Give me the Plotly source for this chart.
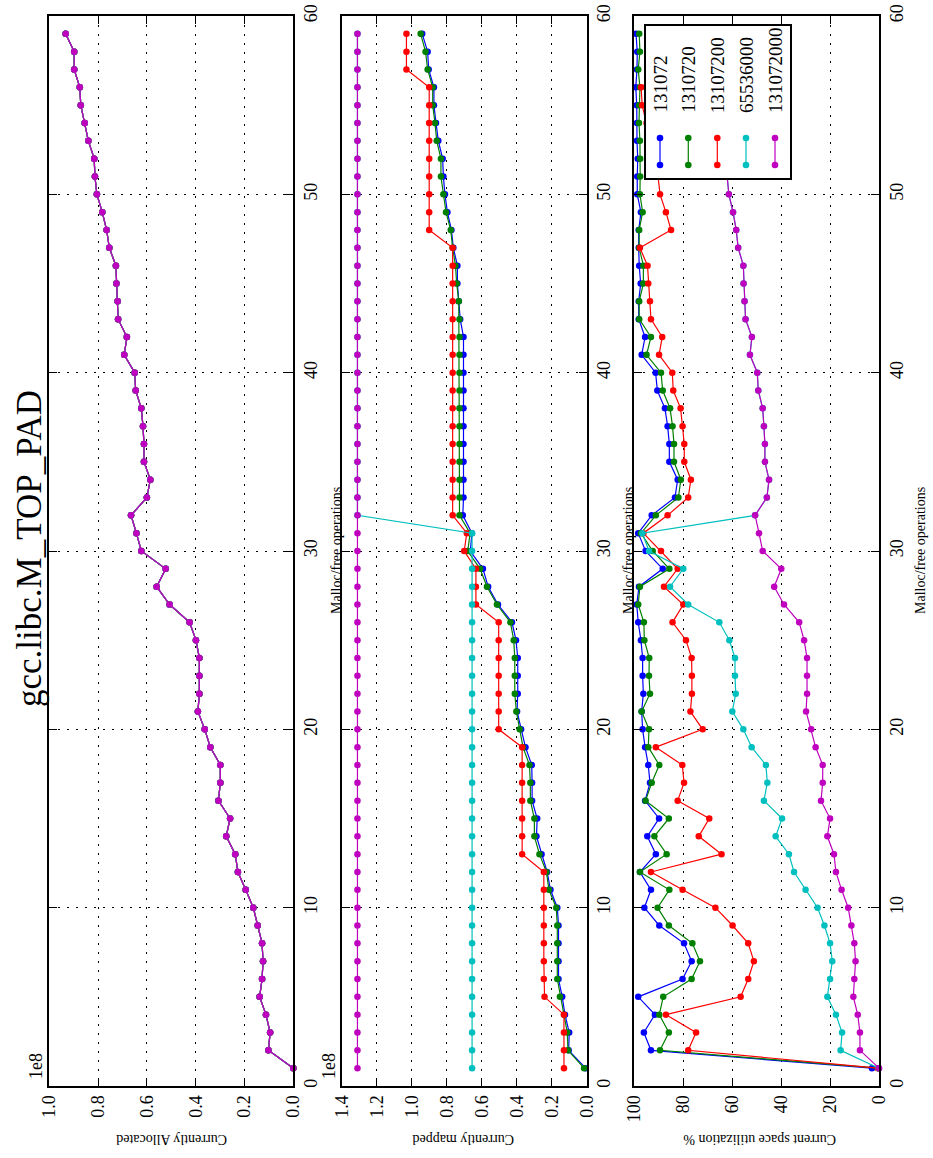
import plotly.graph_objects as go

W, H = 933, 1158

# ---------------- data ----------------
operations = list(range(1, 60))
series_names = ["131072", "1310720", "13107200", "65536000", "131072000"]
series_colors = ["#0000ff", "#008000", "#ff0000", "#00bfbf", "#bf00bf"]

# Panel 1: currently allocated (x 1e8) - all series coincide
allocated = [0.0, 0.102, 0.095, 0.112, 0.138, 0.128, 0.124, 0.128, 0.146, 0.164,
             0.195, 0.227, 0.238, 0.275, 0.259, 0.307, 0.299, 0.299, 0.340, 0.363,
             0.391, 0.385, 0.385, 0.385, 0.399, 0.425, 0.507, 0.560, 0.523, 0.623,
             0.643, 0.665, 0.600, 0.586, 0.612, 0.612, 0.616, 0.623, 0.646, 0.650,
             0.693, 0.682, 0.718, 0.720, 0.725, 0.727, 0.754, 0.765, 0.783, 0.805,
             0.813, 0.816, 0.840, 0.855, 0.871, 0.875, 0.898, 0.898, 0.933]

# Panel 2: currently mapped (x 1e8)
mapped_blue = [0.006, 0.103, 0.100, 0.124, 0.140, 0.161, 0.161, 0.161, 0.161, 0.168,
               0.207, 0.226, 0.258, 0.287, 0.283, 0.312, 0.312, 0.314, 0.350, 0.375,
               0.398, 0.394, 0.394, 0.394, 0.404, 0.427, 0.507, 0.563, 0.593, 0.665,
               0.656, 0.708, 0.704, 0.704, 0.704, 0.704, 0.704, 0.704, 0.704, 0.704,
               0.704, 0.704, 0.723, 0.731, 0.739, 0.739, 0.762, 0.773, 0.796, 0.810,
               0.819, 0.823, 0.848, 0.861, 0.873, 0.873, 0.903, 0.909, 0.940]
mapped_green = [0.015, 0.107, 0.111, 0.130, 0.153, 0.168, 0.168, 0.168, 0.168, 0.174,
                0.216, 0.230, 0.270, 0.299, 0.299, 0.322, 0.322, 0.327, 0.364, 0.383,
                0.402, 0.411, 0.411, 0.411, 0.417, 0.436, 0.513, 0.570, 0.609, 0.680,
                0.666, 0.727, 0.727, 0.727, 0.727, 0.727, 0.727, 0.727, 0.727, 0.727,
                0.727, 0.727, 0.727, 0.731, 0.743, 0.750, 0.766, 0.777, 0.804, 0.819,
                0.833, 0.833, 0.857, 0.867, 0.880, 0.880, 0.909, 0.921, 0.949]
mapped_red = [0.130, 0.130, 0.130, 0.130, 0.241, 0.245, 0.245, 0.245, 0.245, 0.245,
              0.245, 0.245, 0.369, 0.369, 0.369, 0.369, 0.369, 0.369, 0.369, 0.503,
              0.503, 0.503, 0.503, 0.503, 0.503, 0.503, 0.633, 0.633, 0.633, 0.700,
              0.685, 0.766, 0.766, 0.766, 0.766, 0.766, 0.766, 0.766, 0.766, 0.766,
              0.766, 0.766, 0.766, 0.766, 0.766, 0.766, 0.766, 0.900, 0.900, 0.900,
              0.900, 0.900, 0.900, 0.900, 0.900, 0.900, 1.030, 1.030, 1.030]
mapped_cyan = [0.655, 0.655, 0.655, 0.655, 0.655, 0.655, 0.655, 0.655, 0.655, 0.655,
               0.655, 0.655, 0.655, 0.655, 0.655, 0.655, 0.655, 0.655, 0.655, 0.655,
               0.655, 0.655, 0.655, 0.655, 0.655, 0.655, 0.655, 0.655, 0.655, 0.655,
               0.655, 1.310, 1.310, 1.310, 1.310, 1.310, 1.310, 1.310, 1.310, 1.310,
               1.310, 1.310, 1.310, 1.310, 1.310, 1.310, 1.310, 1.310, 1.310, 1.310,
               1.310, 1.310, 1.310, 1.310, 1.310, 1.310, 1.310, 1.310, 1.310]
mapped_magenta = [1.310] * 59

# Panel 3: current space utilization %
util_blue = [3.0, 93.2, 96.1, 91.6, 98.4, 80.3, 76.6, 79.7, 89.8, 95.9,
             93.2, 97.7, 91.2, 94.7, 89.9, 95.6, 93.6, 94.3, 95.6, 96.6,
             97.0, 96.3, 96.6, 96.6, 97.3, 98.4, 99.0, 98.1, 88.4, 95.4,
             98.4, 92.9, 83.4, 82.3, 85.7, 85.7, 86.4, 87.5, 90.6, 91.3,
             97.0, 95.6, 98.2, 98.2, 97.4, 98.0, 98.2, 98.2, 97.3, 98.8,
             98.8, 98.6, 98.9, 98.9, 99.0, 99.4, 98.9, 98.8, 99.3]
util_green = [0.5, 89.5, 85.9, 89.8, 88.2, 76.6, 73.2, 76.3, 85.9, 90.5,
              85.7, 97.7, 86.8, 91.8, 85.9, 95.4, 92.9, 89.8, 94.3, 94.0,
              97.0, 93.6, 94.0, 93.9, 95.9, 96.1, 98.4, 97.7, 85.7, 92.5,
              97.3, 91.2, 82.0, 81.0, 83.8, 83.8, 84.4, 85.4, 88.4, 89.1,
              95.0, 93.2, 98.0, 98.0, 96.3, 96.3, 98.0, 98.0, 96.6, 97.7,
              97.6, 97.6, 97.7, 98.1, 98.0, 97.7, 98.4, 97.7, 98.0]
util_red = [0.5, 78.0, 74.8, 87.1, 56.6, 53.5, 51.2, 53.5, 59.9, 66.9,
            80.3, 93.2, 64.4, 73.7, 69.4, 82.3, 79.7, 80.4, 91.2, 72.1,
            77.1, 76.5, 76.5, 76.6, 78.9, 84.4, 80.0, 87.9, 82.3, 89.1,
            96.3, 86.4, 78.0, 76.9, 79.6, 79.6, 80.3, 81.1, 84.1, 84.5,
            89.9, 88.6, 93.2, 93.6, 94.3, 94.6, 97.7, 85.0, 87.1, 89.5,
            90.3, 90.7, 93.3, 95.0, 96.8, 97.2, 87.2, 87.2, 90.6]
util_cyan = [0.2, 15.8, 15.2, 17.7, 21.2, 20.1, 19.2, 20.1, 22.4, 25.2,
             30.1, 34.8, 36.9, 42.3, 39.7, 47.1, 45.7, 46.3, 52.1, 55.5,
             60.0, 58.6, 58.9, 58.9, 61.2, 65.3, 78.0, 85.4, 80.0, 94.0,
             96.7, 50.7, 45.9, 45.0, 46.7, 46.7, 47.1, 47.6, 49.4, 49.8,
             52.8, 52.0, 54.6, 55.0, 55.4, 55.5, 57.6, 58.4, 59.7, 61.4,
             62.1, 62.3, 64.1, 65.3, 66.5, 66.8, 68.5, 68.5, 71.2]
util_magenta = [0.1, 7.9, 7.9, 8.8, 10.6, 10.2, 9.7, 10.2, 11.4, 12.7,
                15.4, 17.7, 18.5, 21.2, 20.1, 23.8, 23.1, 23.1, 26.0, 27.8,
                29.9, 29.5, 29.5, 29.5, 30.7, 32.7, 38.9, 42.9, 40.0, 47.6,
                49.1, 50.7, 45.9, 45.0, 46.7, 46.7, 47.1, 47.6, 49.4, 49.8,
                52.8, 52.0, 54.6, 55.0, 55.4, 55.5, 57.6, 58.4, 59.7, 61.4,
                62.1, 62.3, 64.1, 65.3, 66.5, 66.8, 68.5, 68.5, 71.2]

alloc_ticks = [0.0, 0.2, 0.4, 0.6, 0.8, 1.0]
alloc_ticktext = ["0.0", "0.2", "0.4", "0.6", "0.8", "1.0"]
mapped_ticks = [0.0, 0.2, 0.4, 0.6, 0.8, 1.0, 1.2, 1.4]
mapped_ticktext = ["0.0", "0.2", "0.4", "0.6", "0.8", "1.0", "1.2", "1.4"]
util_ticks = [0, 20, 40, 60, 80, 100]
util_ticktext = ["0", "20", "40", "60", "80", "100"]
ops_ticks = [0, 10, 20, 30, 40, 50, 60]
ops_ticktext = ["0", "10", "20", "30", "40", "50", "60"]

title_text = "gcc.libc.M_TOP_PAD"
axis_titles = ["Currently Allocated", "Currently mapped", "Current space utilization %"]
ops_title = "Malloc/free operations"

# ---------------- figure ----------------
FONT = "Liberation Serif"

def px(X):
    return X / W

def py(Y):
    return 1 - Y / H

panel_x = [(49.3, 293.3), (341.7, 586.7), (634.3, 879.3)]
y_dom = [py(1086), py(16)]

panel_data = [
    [allocated, allocated, allocated, allocated, allocated],
    [mapped_blue, mapped_green, mapped_red, mapped_cyan, mapped_magenta],
    [util_blue, util_green, util_red, util_cyan, util_magenta],
]
panel_ranges = [[1.0, 0.0], [1.4, 0.0], [100, 0]]
panel_ticks = [(alloc_ticks, alloc_ticktext), (mapped_ticks, mapped_ticktext),
               (util_ticks, util_ticktext)]

fig = go.Figure()
for p in range(3):
    sfx = "" if p == 0 else str(p + 1)
    for s in range(5):
        fig.add_trace(go.Scatter(
            x=panel_data[p][s], y=operations,
            xaxis="x" + sfx, yaxis="y" + sfx,
            mode="lines+markers", name=series_names[s],
            line=dict(color=series_colors[s], width=1.2),
            marker=dict(color=series_colors[s], size=6.5,
                        line=dict(color=series_colors[s], width=0)),
            showlegend=False, cliponaxis=False,
        ))

common = dict(
    showline=True, linecolor="black", linewidth=2, mirror="ticks",
    ticks="inside", ticklen=8, tickwidth=1, tickcolor="black",
    showgrid=True, gridcolor="black", gridwidth=1, griddash="2px,7px",
    zeroline=False, tickangle=-90, automargin=False,
    tickfont=dict(family=FONT, size=18, color="black"),
)

layout = dict(
    width=W, height=H, margin=dict(l=0, r=0, t=0, b=0, pad=0),
    paper_bgcolor="white", plot_bgcolor="white",
    font=dict(family=FONT, color="black"),
    showlegend=False,
)
for p in range(3):
    sfx = "" if p == 0 else str(p + 1)
    x0, x1 = panel_x[p]
    tv, tt = panel_ticks[p]
    layout["xaxis" + sfx] = dict(
        common, domain=[px(x0), px(x1)], range=panel_ranges[p],
        tickmode="array", tickvals=tv, ticktext=tt,
        anchor="y" + sfx, side="bottom",
    )
    layout["yaxis" + sfx] = dict(
        common, domain=y_dom, range=[0, 60],
        tickmode="array", tickvals=ops_ticks, ticktext=ops_ticktext,
        anchor="x" + sfx, side="right",
    )
fig.update_layout(**layout)

annotations = []
# title
annotations.append(dict(text=title_text, x=px(29), y=py(549), xref="paper", yref="paper",
                        showarrow=False, textangle=-90, xanchor="center", yanchor="middle",
                        font=dict(family=FONT, size=35, color="black")))
# axis titles (upside down)
for p, cx in enumerate([172, 464, 760]):
    annotations.append(dict(text=axis_titles[p], x=px(cx), y=py(1140), xref="paper", yref="paper",
                            showarrow=False, textangle=180, xanchor="center", yanchor="middle",
                            font=dict(family=FONT, size=14, color="black")))
# operations titles
for cx in [336, 628, 920]:
    annotations.append(dict(text=ops_title, x=px(cx), y=py(551), xref="paper", yref="paper",
                            showarrow=False, textangle=-90, xanchor="center", yanchor="middle",
                            font=dict(family=FONT, size=14, color="black")))
# offset labels
for cx in [36, 329]:
    annotations.append(dict(text="1e8", x=px(cx), y=py(1066), xref="paper", yref="paper",
                            showarrow=False, textangle=-90, xanchor="center", yanchor="middle",
                            font=dict(family=FONT, size=18, color="black")))

shapes = []
# legend box
shapes.append(dict(type="rect", xref="paper", yref="paper",
                   x0=px(645), x1=px(791), y0=py(179), y1=py(25),
                   line=dict(color="black", width=2), fillcolor="white", layer="above"))
leg_x = [660, 688.3, 717.3, 746, 775]
for s in range(5):
    X = leg_x[s]
    shapes.append(dict(type="line", xref="paper", yref="paper",
                       x0=px(X), x1=px(X), y0=py(165), y1=py(138),
                       line=dict(color=series_colors[s], width=1.2), layer="above"))
    for Y in (138, 165):
        shapes.append(dict(type="circle", xref="paper", yref="paper",
                           x0=px(X - 3.3), x1=px(X + 3.3), y0=py(Y + 3.3), y1=py(Y - 3.3),
                           line=dict(color=series_colors[s], width=0),
                           fillcolor=series_colors[s], layer="above"))
    annotations.append(dict(text=series_names[s], x=px(X), y=py(115), xref="paper", yref="paper",
                            showarrow=False, textangle=-90, xanchor="center", yanchor="bottom",
                            font=dict(family=FONT, size=19, color="black")))

fig.update_layout(annotations=annotations, shapes=shapes)
fig.write_html("out.html", config={"displayModeBar": False},
               post_script="document.body.style.margin='0';")
